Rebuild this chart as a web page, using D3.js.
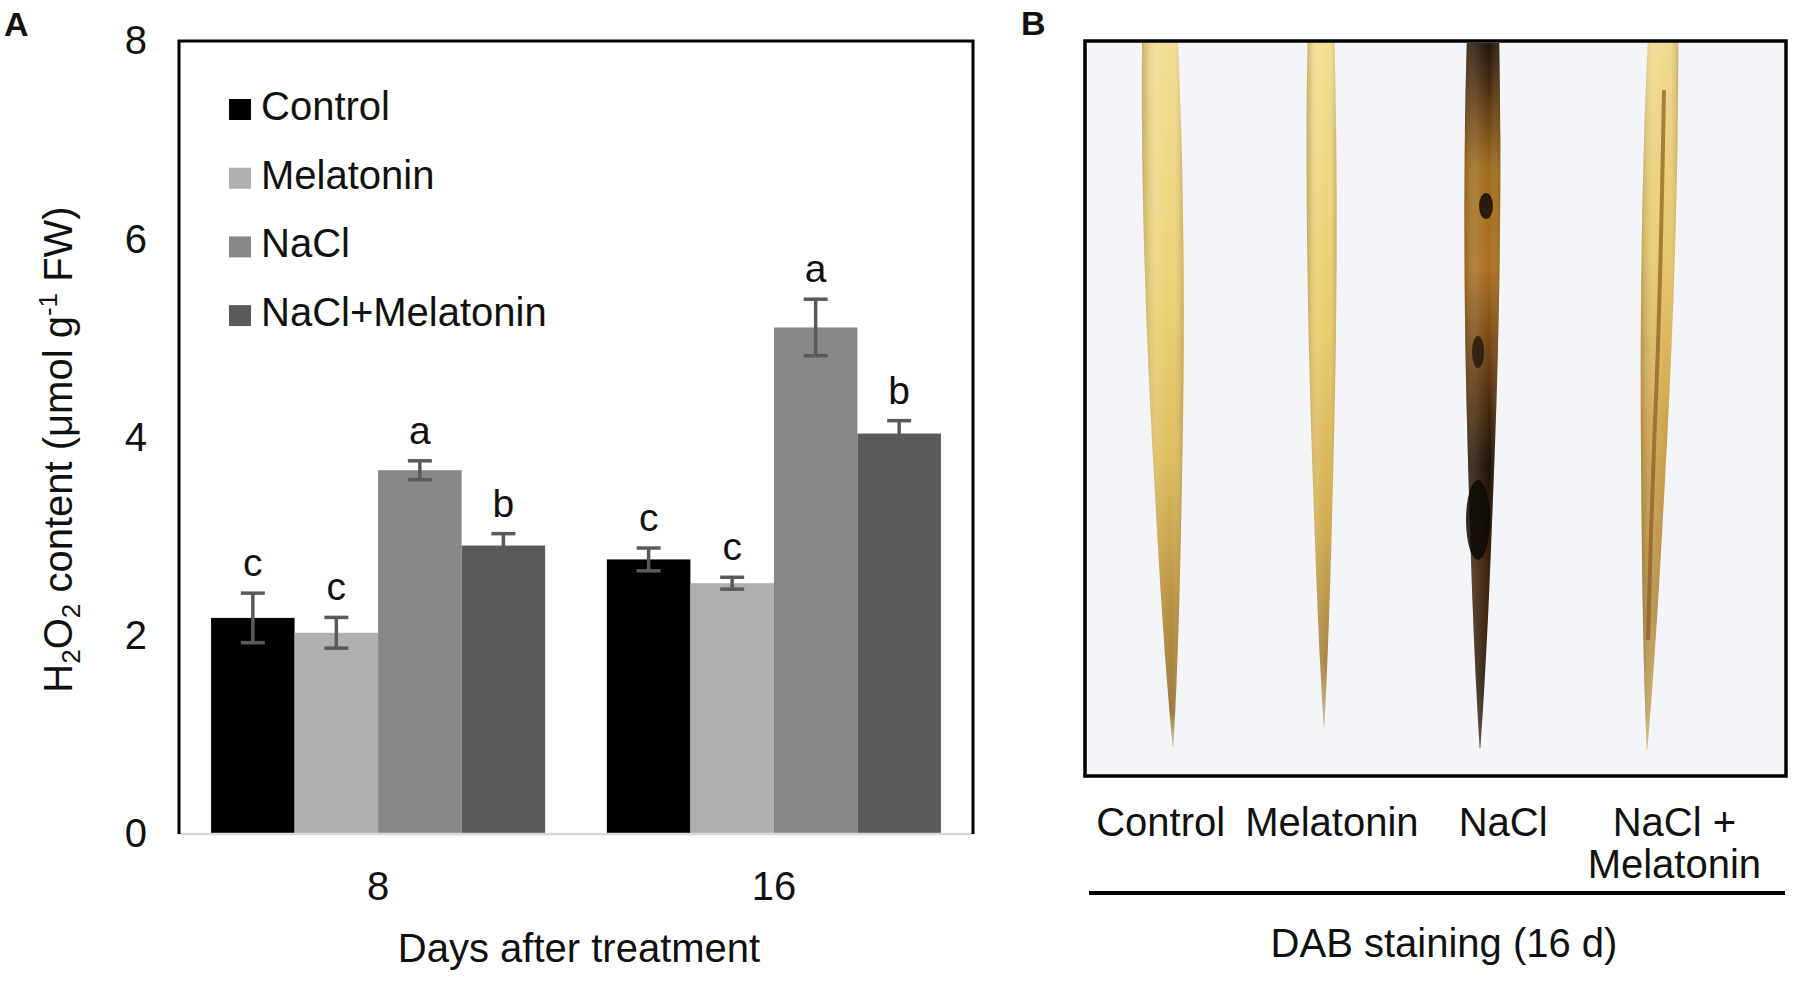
<!DOCTYPE html>
<html lang="en">
<head>
<meta charset="utf-8">
<script src="https://cdn.jsdelivr.net/npm/d3@7"></script>
<style type="text/css">
body {
	margin: 0;
	background: #fff;
}
text {
	font-family: "Liberation Sans", Arial, sans-serif;
	fill: #111;
}
</style>
</head>
<body>
<script type="text/javascript">

// values (H2O2 content, umol g-1 FW)
var days = ["8", "16"];
var treatments = ["Control", "Melatonin", "NaCl", "NaCl+Melatonin"];
var barColors = ["#000000", "#b0b0b0", "#878787", "#5a5a5a"];

var controlMean = [2.18, 2.77];
var controlErr = [0.25, 0.115];
var controlSig = ["c", "c"];

var melatoninMean = [2.03, 2.53];
var melatoninErr = [0.155, 0.06];
var melatoninSig = ["c", "c"];

var naclMean = [3.67, 5.11];
var naclErr = [0.095, 0.285];
var naclSig = ["a", "a"];

var naclMelMean = [2.91, 4.04];
var naclMelErr = [0.12, 0.13];
var naclMelSig = ["b", "b"];

var yTicks = [0, 2, 4, 6, 8];

// panel B labels
var stainLabels = [["Control"], ["Melatonin"], ["NaCl"], ["NaCl +", "Melatonin"]];

var width = 1800;
var height = 999;

var svg = d3.select("body")
	.append("svg")
	.attr("width", width)
	.attr("height", height);

svg.append("rect").attr("width", width).attr("height", height).attr("fill", "#fff");

// ---------- panel A : bar chart ----------
var pL = 179, pR = 973, pT = 41, pB = 834;

var means = [controlMean, melatoninMean, naclMean, naclMelMean];
var errs = [controlErr, melatoninErr, naclErr, naclMelErr];
var sigs = [controlSig, melatoninSig, naclSig, naclMelSig];

// flatten to one record per bar
var bars = [];
days.forEach(function(d, i) {
	treatments.forEach(function(t, j) {
		bars.push({day: d, treat: t, mean: means[j][i], err: errs[j][i], sig: sigs[j][i], color: barColors[j]});
	});
});

var x0 = d3.scaleBand()
	.domain(days)
	.range([pL, pR])
	.paddingInner(0.156)
	.paddingOuter(0.081);

var x1 = d3.scaleBand()
	.domain(treatments)
	.range([0, x0.bandwidth()]);

var y = d3.scaleLinear()
	.domain([0, 8])
	.range([pB, pT]);

var gA = svg.append("g");

gA.append("text")
	.attr("x", 4).attr("y", 36)
	.style("font-size", "34px").style("font-weight", "bold")
	.text("A");

// bars
gA.selectAll("rect.bar")
	.data(bars)
	.enter()
	.append("rect")
	.attr("class", "bar")
	.attr("x", function(d) { return x0(d.day) + x1(d.treat); })
	.attr("width", x1.bandwidth())
	.attr("y", function(d) { return y(d.mean); })
	.attr("height", function(d) { return y(0) - y(d.mean); })
	.attr("fill", function(d) { return d.color; });

// error bars
var eb = gA.selectAll("g.err")
	.data(bars)
	.enter()
	.append("g")
	.attr("class", "err")
	.attr("transform", function(d) { return "translate(" + (x0(d.day) + x1(d.treat) + x1.bandwidth() / 2) + ",0)"; })
	.style("stroke", "#5a5a5a")
	.style("stroke-width", 3.5);

eb.append("line")
	.attr("y1", function(d) { return y(d.mean + d.err); })
	.attr("y2", function(d) { return y(d.mean - d.err); });
eb.append("line")
	.attr("x1", -12).attr("x2", 12)
	.attr("y1", function(d) { return y(d.mean + d.err); })
	.attr("y2", function(d) { return y(d.mean + d.err); });
eb.append("line")
	.attr("x1", -12).attr("x2", 12)
	.attr("y1", function(d) { return y(d.mean - d.err); })
	.attr("y2", function(d) { return y(d.mean - d.err); });

// significance letters
gA.selectAll("text.sig")
	.data(bars)
	.enter()
	.append("text")
	.attr("class", "sig")
	.attr("x", function(d) { return x0(d.day) + x1(d.treat) + x1.bandwidth() / 2; })
	.attr("y", function(d) { return y(d.mean + d.err) - 17; })
	.attr("text-anchor", "middle")
	.style("font-size", "39px")
	.text(function(d) { return d.sig; });

// frame
gA.append("line").attr("x1", pL).attr("x2", pR).attr("y1", pB).attr("y2", pB)
	.style("stroke", "#d9d9d9").style("stroke-width", 2.5);
gA.append("path")
	.attr("d", "M" + pL + "," + pB + "V" + pT + "H" + pR + "V" + pB)
	.style("fill", "none").style("stroke", "#000").style("stroke-width", 3);

// y axis
var yAxis = gA.append("g")
	.attr("transform", "translate(" + pL + ",0)")
	.call(d3.axisLeft(y).tickValues(yTicks).tickSize(0).tickPadding(32));
yAxis.select(".domain").remove();
yAxis.selectAll("text")
	.style("font-size", "40px")
	.style("font-family", "'Liberation Sans', Arial, sans-serif")
	.attr("fill", "#111");

// x axis labels
var xAxis = gA.append("g")
	.attr("transform", "translate(0," + pB + ")")
	.call(d3.axisBottom(x0).tickSize(0).tickPadding(38));
xAxis.select(".domain").remove();
xAxis.selectAll("text")
	.style("font-size", "40px")
	.style("font-family", "'Liberation Sans', Arial, sans-serif")
	.attr("fill", "#111");

gA.append("text")
	.attr("x", (pL + pR) / 2 + 3).attr("y", 962)
	.attr("text-anchor", "middle")
	.style("font-size", "40px")
	.text("Days after treatment");

var yTitle = gA.append("text")
	.attr("transform", "translate(72," + ((pT + pB) / 2 + 12) + ") rotate(-90)")
	.attr("text-anchor", "middle")
	.style("font-size", "40px");
yTitle.append("tspan").text("H");
yTitle.append("tspan").attr("dy", 8).style("font-size", "26px").text("2");
yTitle.append("tspan").attr("dy", -8).text("O");
yTitle.append("tspan").attr("dy", 8).style("font-size", "26px").text("2");
yTitle.append("tspan").attr("dy", -8).text(" content (\u03bcmol g");
yTitle.append("tspan").attr("dy", -15).style("font-size", "26px").text("-1");
yTitle.append("tspan").attr("dy", 15).text(" FW)");

// legend
var legend = gA.selectAll("g.legend")
	.data(treatments)
	.enter()
	.append("g")
	.attr("class", "legend")
	.attr("transform", function(d, i) { return "translate(229," + (120 + i * 68.7) + ")"; });
legend.append("rect")
	.attr("x", 0).attr("y", -21).attr("width", 22).attr("height", 21)
	.attr("fill", function(d, i) { return barColors[i]; });
legend.append("text")
	.attr("x", 32).attr("y", 0)
	.style("font-size", "40px")
	.text(function(d) { return d; });

// ---------- panel B : DAB staining photo ----------
var bx0 = 1085, bx1 = 1786, by0 = 41, by1 = 776;
var gB = svg.append("g");

gB.append("text")
	.attr("x", 1021).attr("y", 35)
	.style("font-size", "34px").style("font-weight", "bold")
	.text("B");

gB.append("rect")
	.attr("x", bx0).attr("y", by0).attr("width", bx1 - bx0).attr("height", by1 - by0)
	.attr("fill", "#f4f5f9");

var xs = d3.scaleBand()
	.domain(d3.range(stainLabels.length))
	.range([1075, 1760]);

// leaf outlines (shape of the stained blades in the photo)
var leafProfile = [[0, 0.9], [0.12, 1], [0.3, 1], [0.48, 0.88], [0.65, 0.66], [0.8, 0.45], [0.92, 0.22], [1, 0.02]];
var leafShapes = [
	{cxTop: 1160, cxTip: 1173, w: 20, tip: 747, stops: [[0, "#f1dd90"], [0.35, "#ecd275"], [0.6, "#dcbb5c"], [0.8, "#b89040"], [0.95, "#9c7a3c"], [1, "#d8c8a0"]]},
	{cxTop: 1321, cxTip: 1324, w: 15, tip: 727, stops: [[0, "#f3df8e"], [0.4, "#eacd6c"], [0.7, "#d2ac50"], [0.9, "#a88440"], [1, "#cdb890"]]},
	{cxTop: 1483, cxTip: 1480, w: 18, tip: 748, stops: [[0, "#1e1208"], [0.06, "#4a2a0e"], [0.18, "#a06c1c"], [0.32, "#a86e1e"], [0.45, "#6a3c10"], [0.6, "#1c1006"], [0.75, "#3e220c"], [0.9, "#32200e"], [1, "#50402c"]]},
	{cxTop: 1663, cxTip: 1647, w: 17, tip: 750, stops: [[0, "#f0da8c"], [0.3, "#e6c86c"], [0.55, "#cfa24a"], [0.8, "#b08840"], [0.95, "#c8a864"], [1, "#dacaa0"]]}
];

var defs = svg.append("defs");
leafShapes.forEach(function(s, i) {
	var g = defs.append("linearGradient")
		.attr("id", "leaf" + i)
		.attr("x1", 0).attr("y1", 0).attr("x2", 0).attr("y2", 1);
	s.stops.forEach(function(st) {
		g.append("stop").attr("offset", st[0]).attr("stop-color", st[1]);
	});
});
var shade = defs.append("linearGradient").attr("id", "shade")
	.attr("x1", 0).attr("y1", 0).attr("x2", 1).attr("y2", 0);
shade.append("stop").attr("offset", 0).attr("stop-color", "#7a5a20").attr("stop-opacity", 0.35);
shade.append("stop").attr("offset", 0.35).attr("stop-color", "#fff").attr("stop-opacity", 0.12);
shade.append("stop").attr("offset", 0.7).attr("stop-color", "#fff").attr("stop-opacity", 0);
shade.append("stop").attr("offset", 1).attr("stop-color", "#7a5a20").attr("stop-opacity", 0.3);

var leafArea = d3.area()
	.curve(d3.curveBasis)
	.y(function(p) { return p.y; })
	.x0(function(p) { return p.cx - p.hw; })
	.x1(function(p) { return p.cx + p.hw; });

function leafPoints(s) {
	return leafProfile.map(function(p) {
		return {
			y: by0 + 2 + p[0] * (s.tip - by0 - 2),
			cx: s.cxTop + p[0] * (s.cxTip - s.cxTop),
			hw: p[1] * s.w
		};
	});
}

leafShapes.forEach(function(s, i) {
	gB.append("path").attr("d", leafArea(leafPoints(s))).attr("fill", "url(#leaf" + i + ")");
	gB.append("path").attr("d", leafArea(leafPoints(s))).attr("fill", "url(#shade)");
});

// dark DAB deposits on the NaCl blade and streak on NaCl + melatonin
gB.append("ellipse").attr("cx", 1486).attr("cy", 206).attr("rx", 7).attr("ry", 13).attr("fill", "#140c06").attr("opacity", 0.85);
gB.append("ellipse").attr("cx", 1478).attr("cy", 352).attr("rx", 6).attr("ry", 16).attr("fill", "#140c06").attr("opacity", 0.7);
gB.append("ellipse").attr("cx", 1478).attr("cy", 520).attr("rx", 12).attr("ry", 40).attr("fill", "#0c0804").attr("opacity", 0.85);
gB.append("path")
	.attr("d", "M1664,90 C1662,200 1660,320 1655,420 C1652,500 1650,560 1648,640")
	.style("fill", "none").style("stroke", "#8a5a22").style("stroke-width", 4).style("opacity", 0.7);

gB.append("rect")
	.attr("x", bx0).attr("y", by0).attr("width", bx1 - bx0).attr("height", by1 - by0)
	.style("fill", "none").style("stroke", "#000").style("stroke-width", 3.5);

// labels under the photo
var lab = gB.selectAll("text.stain")
	.data(stainLabels)
	.enter()
	.append("text")
	.attr("class", "stain")
	.attr("text-anchor", "middle")
	.attr("x", function(d, i) { return xs(i) + xs.bandwidth() / 2; })
	.attr("y", 836)
	.style("font-size", "40px");
lab.selectAll("tspan")
	.data(function(d) { return d; })
	.enter()
	.append("tspan")
	.attr("x", function() { return d3.select(this.parentNode).attr("x"); })
	.attr("dy", function(d, k) { return k === 0 ? 0 : 42; })
	.text(function(d) { return d; });

gB.append("line")
	.attr("x1", 1089).attr("x2", 1785).attr("y1", 893).attr("y2", 893)
	.style("stroke", "#000").style("stroke-width", 4);

gB.append("text")
	.attr("x", 1444).attr("y", 957)
	.attr("text-anchor", "middle")
	.style("font-size", "40px")
	.text("DAB staining (16 d)");

</script>
</body>
</html>
